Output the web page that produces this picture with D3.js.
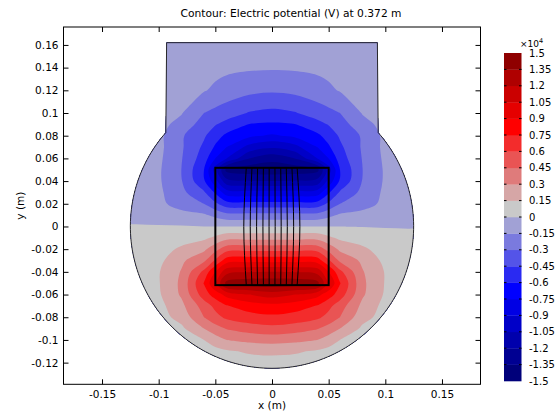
<!DOCTYPE html>
<html>
<head>
<meta charset="utf-8">
<script src="https://cdn.jsdelivr.net/npm/d3@7"></script>
<style>
  html, body { margin: 0; padding: 0; background: #fff; }
  svg { display: block; font-family: "DejaVu Sans", sans-serif; }
</style>
</head>
<body>
<svg id="chart" width="560" height="414"></svg>
<script>
// Sample positions of the potential grid (m); extra columns sit on the coil sides
const gridX = [-0.14, -0.12, -0.10, -0.08, -0.06, -0.05, -0.04, -0.02, 0, 0.02, 0.04, 0.05, 0.06, 0.08, 0.10, 0.12, 0.14];
const gridY = [0.18, 0.16, 0.14, 0.12, 0.10, 0.09, 0.08, 0.07, 0.06, 0.05, 0.04, 0.03, 0.02, 0.01, 0.00,
               -0.01, -0.02, -0.03, -0.04, -0.05, -0.06, -0.07, -0.08, -0.09, -0.10, -0.11, -0.12, -0.14];

// Electric potential in units of 1e4 V, one row per gridY value, one column per gridX value
const potential = [
  [-0.03, -0.04, -0.05, -0.06, -0.07, -0.07, -0.07, -0.07, -0.07, -0.07, -0.07, -0.07, -0.07, -0.06, -0.05, -0.04, -0.03],
  [-0.04, -0.05, -0.06, -0.07, -0.08, -0.085, -0.09, -0.09, -0.09, -0.09, -0.09, -0.085, -0.08, -0.07, -0.06, -0.05, -0.04],
  [-0.04, -0.05, -0.06, -0.08, -0.10, -0.11, -0.12, -0.13, -0.135, -0.13, -0.12, -0.11, -0.10, -0.08, -0.06, -0.05, -0.04],
  [-0.05, -0.06, -0.075, -0.10, -0.14, -0.175, -0.21, -0.26, -0.28, -0.26, -0.21, -0.175, -0.14, -0.10, -0.075, -0.06, -0.05],
  [-0.06, -0.07, -0.09, -0.14, -0.30, -0.34, -0.38, -0.46, -0.49, -0.46, -0.38, -0.34, -0.30, -0.14, -0.09, -0.07, -0.06],
  [-0.06, -0.075, -0.10, -0.20, -0.37, -0.44, -0.50, -0.605, -0.62, -0.605, -0.50, -0.44, -0.37, -0.20, -0.10, -0.075, -0.06],
  [-0.06, -0.08, -0.11, -0.28, -0.43, -0.54, -0.63, -0.72, -0.77, -0.72, -0.63, -0.54, -0.43, -0.28, -0.11, -0.08, -0.06],
  [-0.06, -0.08, -0.11, -0.28, -0.48, -0.62, -0.75, -0.95, -1.03, -0.95, -0.75, -0.62, -0.48, -0.28, -0.11, -0.08, -0.06],
  [-0.06, -0.09, -0.12, -0.29, -0.53, -0.75, -0.90, -1.20, -1.30, -1.20, -0.90, -0.75, -0.53, -0.29, -0.12, -0.09, -0.06],
  [-0.06, -0.09, -0.13, -0.30, -0.60, -0.98, -1.40, -1.45, -1.46, -1.45, -1.40, -0.98, -0.60, -0.30, -0.13, -0.09, -0.06],
  [-0.06, -0.09, -0.13, -0.29, -0.58, -0.85, -1.15, -1.19, -1.20, -1.19, -1.15, -0.85, -0.58, -0.29, -0.13, -0.09, -0.06],
  [-0.05, -0.08, -0.12, -0.26, -0.43, -0.62, -0.83, -0.85, -0.85, -0.85, -0.83, -0.62, -0.43, -0.26, -0.12, -0.08, -0.05],
  [-0.05, -0.07, -0.12, -0.20, -0.30, -0.42, -0.54, -0.55, -0.55, -0.55, -0.54, -0.42, -0.30, -0.20, -0.12, -0.07, -0.05],
  [-0.03, -0.04, -0.07, -0.11, -0.13, -0.19, -0.25, -0.25, -0.25, -0.25, -0.25, -0.19, -0.13, -0.11, -0.07, -0.04, -0.03],
  [0.01, 0.01, 0.01, 0.01, 0.00, 0.00, 0.00, 0.00, 0.00, 0.00, 0.00, 0.00, 0.00, -0.005, -0.01, -0.01, -0.01],
  [0.03, 0.04, 0.06, 0.10, 0.12, 0.18, 0.25, 0.25, 0.25, 0.25, 0.25, 0.18, 0.12, 0.10, 0.06, 0.04, 0.03],
  [0.04, 0.06, 0.10, 0.17, 0.27, 0.40, 0.54, 0.55, 0.55, 0.55, 0.54, 0.40, 0.27, 0.17, 0.10, 0.06, 0.04],
  [0.05, 0.07, 0.11, 0.27, 0.42, 0.62, 0.83, 0.85, 0.85, 0.85, 0.83, 0.62, 0.42, 0.27, 0.11, 0.07, 0.05],
  [0.05, 0.08, 0.14, 0.31, 0.64, 0.90, 1.15, 1.19, 1.20, 1.19, 1.15, 0.90, 0.64, 0.31, 0.14, 0.08, 0.05],
  [0.05, 0.08, 0.14, 0.33, 0.76, 1.05, 1.40, 1.45, 1.46, 1.45, 1.40, 1.05, 0.76, 0.33, 0.14, 0.08, 0.05],
  [0.05, 0.07, 0.13, 0.32, 0.68, 0.82, 0.95, 1.05, 1.12, 1.05, 0.95, 0.82, 0.68, 0.32, 0.13, 0.07, 0.05],
  [0.04, 0.06, 0.10, 0.26, 0.52, 0.64, 0.74, 0.82, 0.85, 0.82, 0.74, 0.64, 0.52, 0.26, 0.10, 0.06, 0.04],
  [0.03, 0.05, 0.09, 0.20, 0.45, 0.55, 0.63, 0.69, 0.72, 0.69, 0.63, 0.55, 0.45, 0.20, 0.09, 0.05, 0.03],
  [0.02, 0.03, 0.06, 0.12, 0.30, 0.39, 0.46, 0.52, 0.55, 0.52, 0.46, 0.39, 0.30, 0.12, 0.06, 0.03, 0.02],
  [0.01, 0.02, 0.04, 0.07, 0.15, 0.23, 0.30, 0.34, 0.36, 0.34, 0.30, 0.23, 0.15, 0.07, 0.04, 0.02, 0.01],
  [0.01, 0.01, 0.02, 0.04, 0.08, 0.10, 0.13, 0.17, 0.18, 0.17, 0.13, 0.10, 0.08, 0.04, 0.02, 0.01, 0.01],
  [0.01, 0.01, 0.01, 0.03, 0.05, 0.06, 0.07, 0.09, 0.10, 0.09, 0.07, 0.06, 0.05, 0.03, 0.01, 0.01, 0.01],
  [0.01, 0.01, 0.01, 0.02, 0.03, 0.035, 0.04, 0.05, 0.06, 0.05, 0.04, 0.035, 0.03, 0.02, 0.01, 0.01, 0.01]
];

// Contour levels (1e4 V) and the fill of each band between consecutive levels
const levels = [-1.5, -1.35, -1.2, -1.05, -0.9, -0.75, -0.6, -0.45, -0.3, -0.15, 0,
                0.15, 0.3, 0.45, 0.6, 0.75, 0.9, 1.05, 1.2, 1.35, 1.5];
const levelLabels = ["-1.5", "-1.35", "-1.2", "-1.05", "-0.9", "-0.75", "-0.6", "-0.45", "-0.3", "-0.15", "0",
                     "0.15", "0.3", "0.45", "0.6", "0.75", "0.9", "1.05", "1.2", "1.35", "1.5"];
const bandColors = [
  "rgb(0,0,122)", "rgb(0,0,146)", "rgb(0,0,172)", "rgb(0,0,200)", "rgb(0,0,228)",
  "rgb(0,0,255)", "rgb(42,42,242)", "rgb(84,84,232)", "rgb(122,122,222)", "rgb(161,161,213)",
  "rgb(201,201,201)", "rgb(214,166,166)", "rgb(223,123,123)", "rgb(233,84,84)", "rgb(243,44,44)",
  "rgb(255,0,0)", "rgb(229,0,0)", "rgb(203,0,0)", "rgb(175,0,0)", "rgb(143,0,0)"
];

// Axis ticks (m)
const xTicks = [-0.15, -0.1, -0.05, 0, 0.05, 0.1, 0.15];
const xTickLabels = ["-0.15", "-0.1", "-0.05", "0", "0.05", "0.1", "0.15"];
const yTicks = [-0.12, -0.1, -0.08, -0.06, -0.04, -0.02, 0, 0.02, 0.04, 0.06, 0.08, 0.1, 0.12, 0.14, 0.16];
const yTickLabels = ["-0.12", "-0.1", "-0.08", "-0.06", "-0.04", "-0.02", "0", "0.02", "0.04", "0.06", "0.08", "0.1", "0.12", "0.14", "0.16"];

// Cut-plane geometry (m): air domain = disc plus a neck on top; coil cross-section
const airRadius = 0.125;
const neckTopHalfWidth = 0.093;
const neckBaseHalfWidth = 0.0937;
const neckTopY = 0.162;
const coilHalfWidth = 0.05;
const coilHalfHeight = 0.0517;

// Current lines through the coil: x at the coil ends and at mid-height (m)
const wireEndX = [-0.0227, -0.0177, -0.0127, -0.0076, -0.0025, 0.0026, 0.0077, 0.0126, 0.0176, 0.0222];
const wireMidX = [-0.0249, -0.0192, -0.0136, -0.0080, -0.0026, 0.0028, 0.0081, 0.0135, 0.0191, 0.0246];

const svg = d3.select("#chart");

const x = d3.scaleLinear().domain([-0.184, 0.184]).range([63.5, 480.5]);
const y = d3.scaleLinear().domain([-0.1391, 0.1758]).range([384.3, 27]);

// ---- filled contours ----
const nx = gridX.length, ny = gridY.length;
const values = potential.flat();
const bands = d3.contours().size([nx, ny]).thresholds(levels.slice(0, -1))(values);

// grid index space -> metres (values sit at cell centres)
const ix = d3.scaleLinear().domain(gridX.map((_, i) => i + 0.5)).range(gridX);
const iy = d3.scaleLinear().domain(gridY.map((_, j) => j + 0.5)).range(gridY);

const ringLine = d3.line()
  .x(p => x(ix(p[0])))
  .y(p => y(iy(p[1])))
  .curve(d3.curveCatmullRomClosed.alpha(0.5));

function bandPath(geom) {
  return geom.coordinates
    .map(poly => poly.map(ring => ringLine(ring.slice(0, -1))).join(""))
    .join("");
}

// outline of the air domain
const shoulderY = Math.sqrt(airRadius * airRadius - neckBaseHalfWidth * neckBaseHalfWidth);
const a0 = Math.atan2(shoulderY, neckBaseHalfWidth);
const a1 = -Math.PI - a0;
const arcPts = d3.range(0, 161).map(k => {
  const a = a0 + (a1 - a0) * k / 160;
  return [airRadius * Math.cos(a), airRadius * Math.sin(a)];
});
const outlinePts = [[-neckTopHalfWidth, neckTopY], [neckTopHalfWidth, neckTopY]].concat(arcPts);
const outline = d3.line().x(p => x(p[0])).y(p => y(p[1]));
const outlineD = outline(outlinePts) + "Z";

const defs = svg.append("defs");
defs.append("clipPath").attr("id", "air").append("path").attr("d", outlineD);

const field = svg.append("g").attr("clip-path", "url(#air)");
field.selectAll("path")
  .data(bands)
  .join("path")
  .attr("d", d => bandPath(d))
  .attr("fill", (d, i) => bandColors[i])
  .attr("fill-rule", "evenodd")
  .attr("stroke", "none");

svg.append("path")
  .attr("d", outlineD)
  .attr("fill", "none")
  .attr("stroke", "#2a2a2a")
  .attr("stroke-width", 1);

// coil current lines
const wireLine = d3.line().x(p => x(p[0])).y(p => y(p[1])).curve(d3.curveNatural);
svg.append("g").selectAll("path")
  .data(wireEndX.map((xe, i) => [[xe, coilHalfHeight], [wireMidX[i], 0], [xe, -coilHalfHeight]]))
  .join("path")
  .attr("d", wireLine)
  .attr("fill", "none")
  .attr("stroke", "#000")
  .attr("stroke-width", 1);

// coil cross-section
svg.append("rect")
  .attr("x", x(-coilHalfWidth))
  .attr("y", y(coilHalfHeight))
  .attr("width", x(coilHalfWidth) - x(-coilHalfWidth))
  .attr("height", y(-coilHalfHeight) - y(coilHalfHeight))
  .attr("fill", "none")
  .attr("stroke", "#000")
  .attr("stroke-width", 2);

// ---- axes (ticks on all four sides, pointing inward) ----
const fontSize = "10.5px";
function styleAxis(g) {
  g.select(".domain").remove();
  g.selectAll(".tick line").attr("stroke", "#000");
  g.selectAll(".tick text").attr("fill", "#000").style("font-size", fontSize).style("font-family", "DejaVu Sans");
}
svg.append("g").attr("transform", `translate(0,${y.range()[0]})`)
  .call(d3.axisBottom(x).tickValues(xTicks).tickFormat((d, i) => xTickLabels[i]).tickSize(-5).tickPadding(6))
  .call(styleAxis);
svg.append("g").attr("transform", `translate(0,${y.range()[1]})`)
  .call(d3.axisTop(x).tickValues(xTicks).tickFormat("").tickSize(-5))
  .call(styleAxis);
svg.append("g").attr("transform", `translate(${x.range()[0]},0)`)
  .call(d3.axisLeft(y).tickValues(yTicks).tickFormat((d, i) => yTickLabels[i]).tickSize(-5).tickPadding(5))
  .call(styleAxis);
svg.append("g").attr("transform", `translate(${x.range()[1]},0)`)
  .call(d3.axisRight(y).tickValues(yTicks).tickFormat("").tickSize(-5))
  .call(styleAxis);

svg.append("rect")
  .attr("x", x.range()[0]).attr("y", y.range()[1])
  .attr("width", x.range()[1] - x.range()[0]).attr("height", y.range()[0] - y.range()[1])
  .attr("fill", "none").attr("stroke", "#000").attr("stroke-width", 1);

// titles
svg.append("text")
  .attr("x", 291).attr("y", 17)
  .attr("text-anchor", "middle")
  .style("font-size", "10.7px")
  .text("Contour: Electric potential (V) at 0.372 m");
svg.append("text")
  .attr("x", (x.range()[0] + x.range()[1]) / 2).attr("y", 409)
  .attr("text-anchor", "middle")
  .style("font-size", fontSize)
  .text("x (m)");
svg.append("text")
  .attr("transform", `translate(24,${(y.range()[0] + y.range()[1]) / 2}) rotate(-90)`)
  .attr("text-anchor", "middle")
  .style("font-size", fontSize)
  .text("y (m)");

// ---- colour legend ----
const cbX = 504, cbW = 17.5;
const cb = d3.scaleLinear().domain([-1.5, 1.5]).range([381, 53]);
const legend = svg.append("g");
legend.selectAll("rect")
  .data(bandColors)
  .join("rect")
  .attr("x", cbX)
  .attr("y", (c, i) => cb(levels[i + 1]))
  .attr("width", cbW)
  .attr("height", (c, i) => cb(levels[i]) - cb(levels[i + 1]) + 0.3)
  .attr("fill", c => c);
legend.selectAll("line.l")
  .data(levels.slice(1, -1))
  .join("line")
  .attr("x1", cbX).attr("x2", cbX + 2.5)
  .attr("y1", d => cb(d)).attr("y2", d => cb(d))
  .attr("stroke", "#000");
legend.selectAll("line.r")
  .data(levels.slice(1, -1))
  .join("line")
  .attr("class", "r")
  .attr("x1", cbX + cbW - 2.5).attr("x2", cbX + cbW)
  .attr("y1", d => cb(d)).attr("y2", d => cb(d))
  .attr("stroke", "#000");
legend.selectAll("text")
  .data(levels)
  .join("text")
  .attr("x", 529)
  .attr("y", d => cb(d))
  .attr("dy", "0.35em")
  .style("font-size", "10px")
  .text((d, i) => levelLabels[i]);
const exp = svg.append("text").attr("x", 520).attr("y", 46.5).style("font-size", "9px");
exp.append("tspan").text("×10");
exp.append("tspan").attr("dy", -4).style("font-size", "6.5px").text("4");
</script>
</body>
</html>
